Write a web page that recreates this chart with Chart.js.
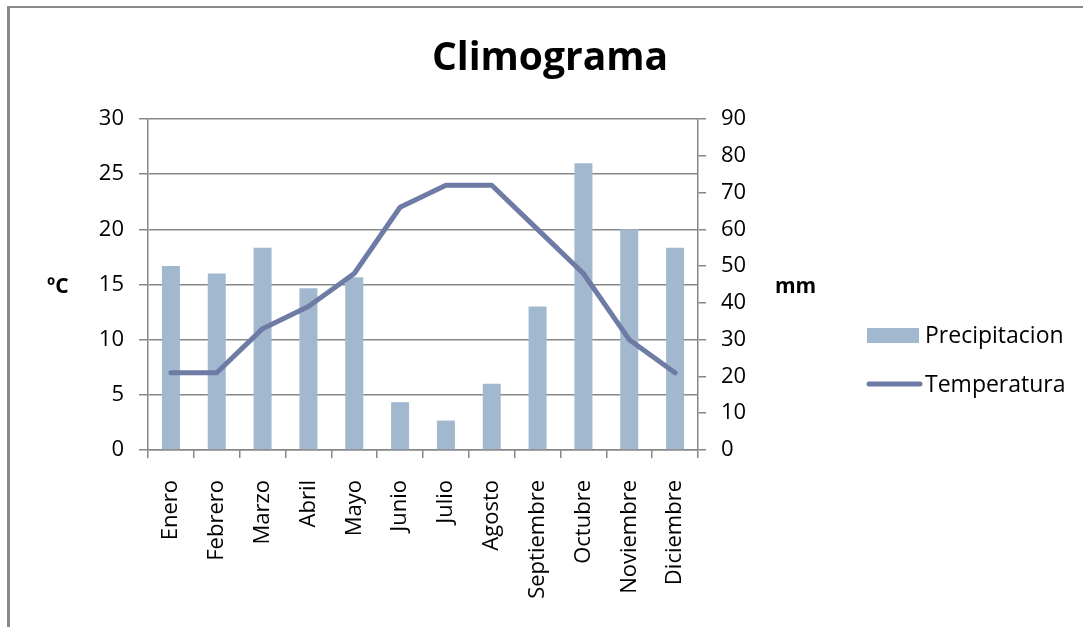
<!DOCTYPE html>
<html><head><meta charset="utf-8">
<script src="https://cdn.jsdelivr.net/npm/chart.js@4.4.0/dist/chart.umd.min.js"></script>
<style>
html,body{margin:0;padding:0;background:#fff;}
#wrap{position:relative;width:1083px;height:627px;overflow:hidden;background:#fff;}
#frame{position:absolute;left:7px;top:6px;width:1200px;height:800px;border-left:3px solid #898989;border-top:2px solid #898989;box-sizing:border-box;}
canvas{position:absolute;left:0;top:0;}
</style></head><body>
<div id="wrap"><div id="frame"></div><canvas id="c" width="1083" height="627"></canvas></div>
<script>
const chartTitle = 'Climograma';
const months = ['Enero','Febrero','Marzo','Abril','Mayo','Junio','Julio','Agosto','Septiembre','Octubre','Noviembre','Diciembre'];
const precipitacion = [50,48,55,44,47,13,8,18,39,78,60,55];
const temperatura = [7,7,11,13,16,22,24,24,20,16,10,7];
const leftAxisTitle = 'ºC';
const rightAxisTitle = 'mm';

const FONT = "'Open Sans', sans-serif";
const gridColor = '#878787';
const barColor = '#A2B8CF';
const lineColor = '#6E7BA4';

const overlay = {
  id: 'overlay',
  afterDraw(chart) {
    const ctx = chart.ctx;
    ctx.save();
    ctx.fillStyle = '#000';
    ctx.textBaseline = 'alphabetic';
    ctx.textAlign = 'center';
    ctx.font = 'bold 39px ' + FONT;
    ctx.fillText(chartTitle, 550, 70);
    ctx.font = 'bold 21px ' + FONT;
    ctx.textAlign = 'left';
    ctx.fillText(leftAxisTitle, 47, 293);
    ctx.fillText(rightAxisTitle, 775, 293);
    // legend
    const ds = chart.data.datasets;
    ctx.font = '23px ' + FONT;
    ctx.textBaseline = 'middle';
    ctx.fillStyle = ds[0].backgroundColor;
    ctx.fillRect(867, 328, 52, 15);
    ctx.fillStyle = '#000';
    ctx.fillText(ds[0].label, 925, 336);
    ctx.strokeStyle = ds[1].borderColor;
    ctx.lineWidth = 5;
    ctx.lineCap = 'round';
    ctx.beginPath(); ctx.moveTo(869, 384); ctx.lineTo(920, 384); ctx.stroke();
    ctx.fillText(ds[1].label, 925, 385);
    ctx.restore();
  }
};

new Chart(document.getElementById('c'), {
  data: {
    labels: months,
    datasets: [
      { type: 'bar', label: 'Precipitacion', data: precipitacion, yAxisID: 'yP', backgroundColor: barColor, borderWidth: 0, barPercentage: 0.393, categoryPercentage: 1, order: 1 },
      { type: 'line', label: 'Temperatura', data: temperatura, yAxisID: 'yT', borderColor: lineColor, backgroundColor: lineColor, borderWidth: 5, pointRadius: 0, tension: 0, borderCapStyle: 'round', borderJoinStyle: 'round', order: 0 }
    ]
  },
  options: {
    responsive: false,
    animation: false,
    layout: { padding: { left: 0, top: 119, right: 305, bottom: 7 } },
    plugins: { legend: { display: false }, tooltip: { enabled: false }, title: { display: false } },
    scales: {
      x: {
        type: 'category', offset: true,
        grid: { offset: true, drawOnChartArea: false, drawTicks: true, tickLength: 8, color: gridColor, lineWidth: 1.5 },
        border: { display: true, color: gridColor, width: 1.5 },
        ticks: { maxRotation: 90, minRotation: 90, autoSkip: false, padding: 22, color: '#000', font: { family: FONT, size: 22 } },
        afterFit: s => { s.height = 170; }
      },
      yT: {
        type: 'linear', position: 'left', min: 0, max: 30,
        grid: { color: gridColor, lineWidth: 1.5, tickLength: 9 },
        border: { display: true, color: gridColor, width: 1.5 },
        ticks: { stepSize: 5, padding: 15, color: '#000', font: { family: FONT, size: 22 } },
        afterFit: s => { s.width = 148; }
      },
      yP: {
        type: 'linear', position: 'right', min: 0, max: 90,
        grid: { drawOnChartArea: false, color: gridColor, lineWidth: 1.5, tickLength: 8 },
        border: { display: true, color: gridColor, width: 1.5 },
        ticks: { stepSize: 10, padding: 15, color: '#000', font: { family: FONT, size: 22 } },
        afterFit: s => { s.width = 80; }
      }
    }
  },
  plugins: [overlay]
});
</script>
</body></html>
